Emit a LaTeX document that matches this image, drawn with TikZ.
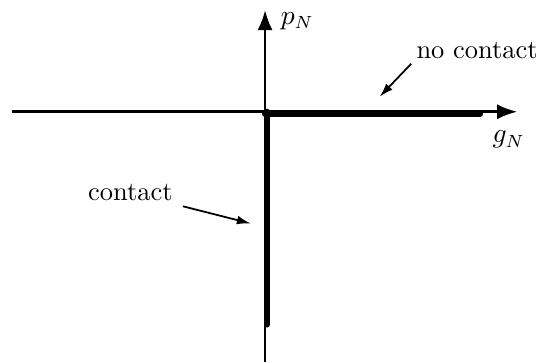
\documentclass[tikz,border=0pt]{standalone}
\usetikzlibrary{arrows.meta}
\begin{document}
\begin{tikzpicture}[scale=1.0,
  every node/.style={font=\fontsize{10.5}{12}\selectfont},
  axis/.style={line width=1pt,-{Latex[length=8pt,width=6pt]}},
  branch/.style={line width=2.4pt,line cap=round},
  pointer/.style={line width=0.7pt,-{Latex[length=5.5pt,width=3.5pt]}}]
\useasboundingbox (-3.70,-3.50) rectangle (3.81,1.56);
\coordinate (O) at (0,0);
\coordinate (xl) at (-3.53,0);
\coordinate (xr) at (3.52,0);
\coordinate (yb) at (0,-3.50);
\coordinate (yt) at (0,1.42);
\coordinate (gapend) at (3.0,-0.03);
\coordinate (forceend) at (0.03,-2.97);
% axes
\draw[axis] (xl) -- (xr);
\draw[axis] (yb) -- (yt);
% admissible branches
\draw[branch] (0,-0.03) -- (gapend);
\draw[branch] (0.03,0) -- (forceend);
\node (pN) at (0.45,1.26) {$p_N$};
\node (gN) at (3.40,-0.39) {$g_N$};
\node (nocontact) at (2.96,0.86) {no contact};
\node (contact) at (-1.88,-1.13) {contact};
\coordinate (nctip) at (1.60,0.21);
\coordinate (ctip) at (-0.20,-1.56);
\draw[pointer] (nocontact.south west) ++(0.05,0.05) -- (nctip);
\draw[pointer] (contact.south east) ++(0.02,0.05) -- (ctip);
\end{tikzpicture}
\end{document}
